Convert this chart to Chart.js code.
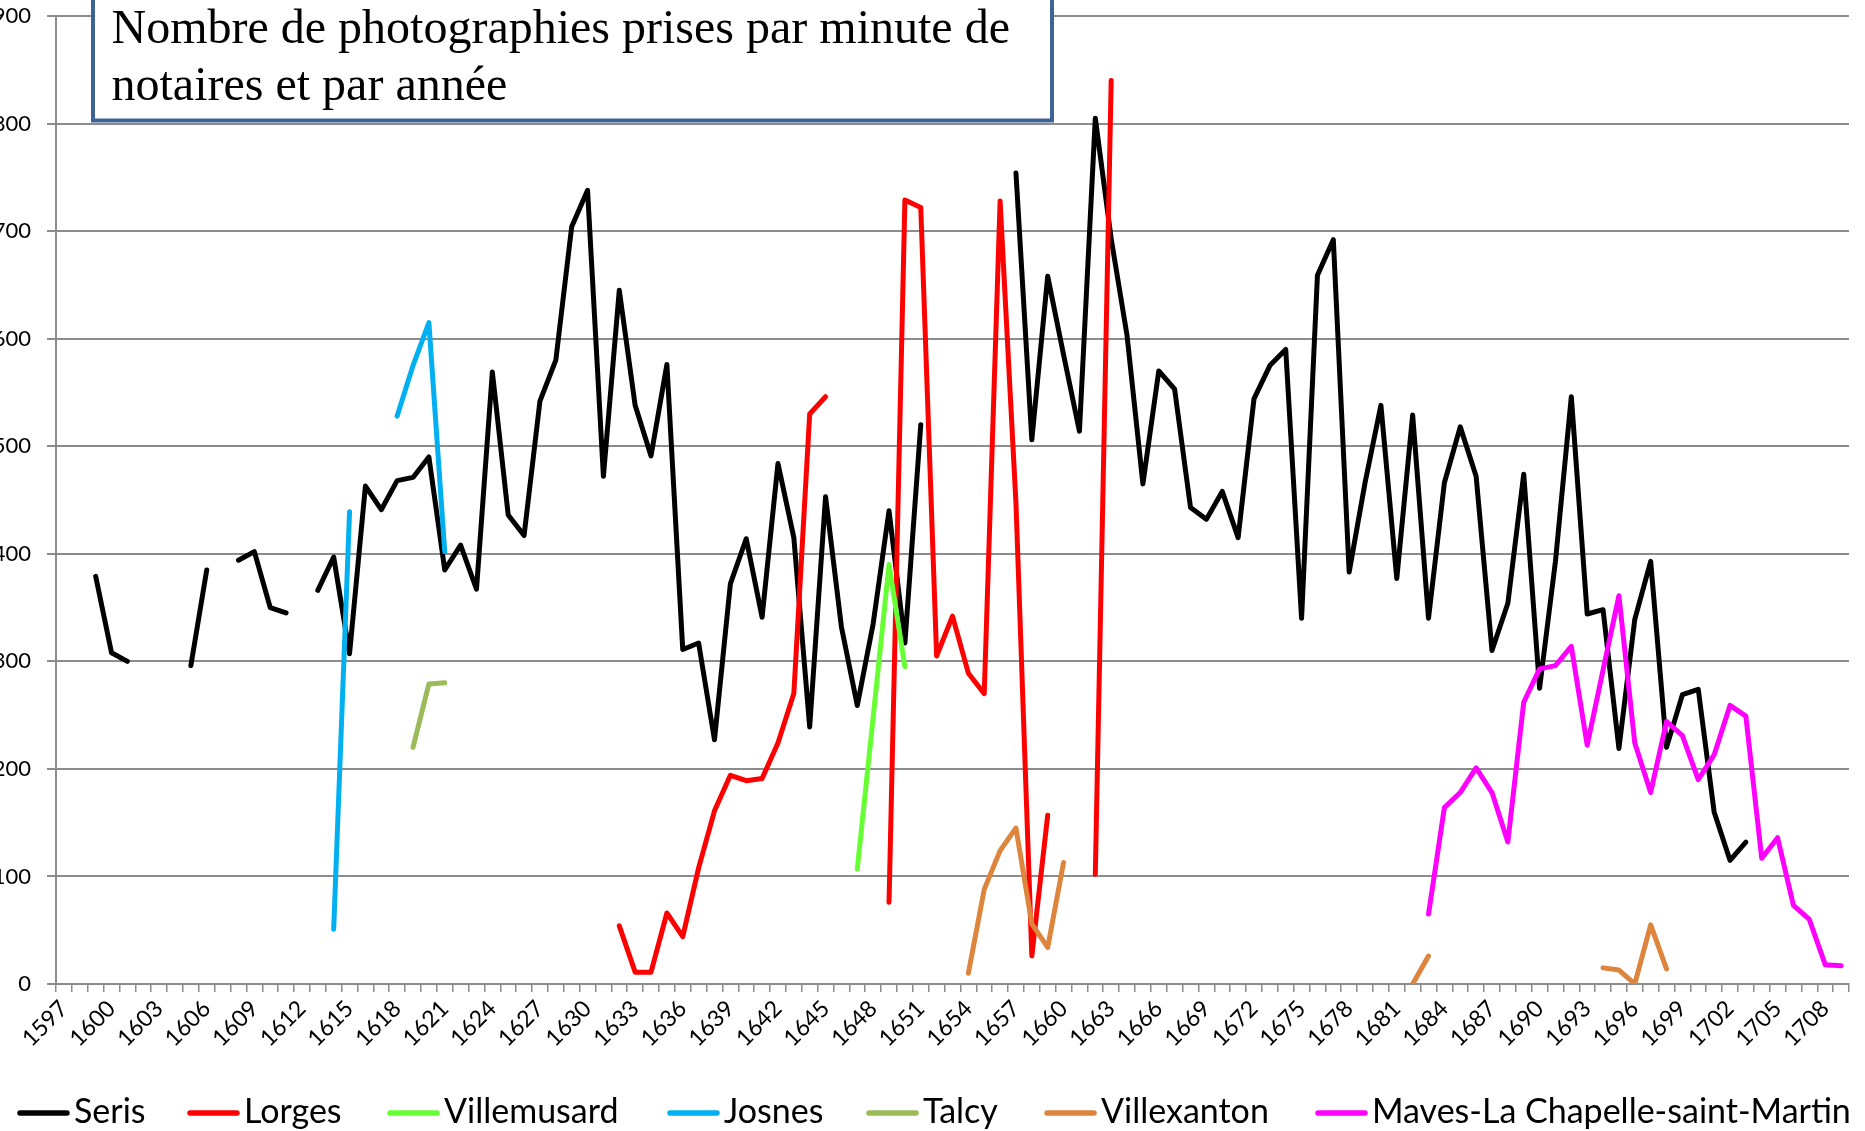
<!DOCTYPE html>
<html>
<head>
<meta charset="utf-8">
<script src="https://cdn.jsdelivr.net/npm/chart.js@4.4.1/dist/chart.umd.min.js"></script>
<style>
html,body{margin:0;padding:0;background:#fff;}
canvas{display:block;}
</style>
</head>
<body>
<canvas id="c" width="1865" height="1131"></canvas>
<script>
const _ = null;
const years = [
 '1597','1598','1599','1600','1601','1602','1603','1604','1605','1606',
 '1607','1608','1609','1610','1611','1612','1613','1614','1615','1616',
 '1617','1618','1619','1620','1621','1622','1623','1624','1625','1626',
 '1627','1628','1629','1630','1631','1632','1633','1634','1635','1636',
 '1637','1638','1639','1640','1641','1642','1643','1644','1645','1646',
 '1647','1648','1649','1650','1651','1652','1653','1654','1655','1656',
 '1657','1658','1659','1660','1661','1662','1663','1664','1665','1666',
 '1667','1668','1669','1670','1671','1672','1673','1674','1675','1676',
 '1677','1678','1679','1680','1681','1682','1683','1684','1685','1686',
 '1687','1688','1689','1690','1691','1692','1693','1694','1695','1696',
 '1697','1698','1699','1700','1701','1702','1703','1704','1705','1706',
 '1707','1708','1709'
];
const shownTicks = ['1597','1600','1603','1606','1609','1612','1615','1618','1621','1624','1627','1630','1633','1636','1639','1642','1645','1648','1651','1654','1657','1660','1663','1666','1669','1672','1675','1678','1681','1684','1687','1690','1693','1696','1699','1702','1705','1708'];
const yTicks = [0,100,200,300,400,500,600,700,800,900];

const seris = [
 _, _, 379, 308, 300, _, _, _, 296, 385,
 _, 394, 402, 350, 345, _, 366, 397, 307, 463,
 441, 468, 471, 490, 385, 408, 367, 569, 436, 417,
 542, 580, 704, 738, 472, 645, 538, 491, 576, 311,
 317, 227, 372, 414, 341, 484, 415, 239, 453, 332,
 259, 335, 440, 317, 520, _, _, _, _, _,
 754, 506, 658, 585, 514, 805, 693, 603, 465, 570,
 553, 443, 432, 458, 415, 544, 575, 590, 340, 659,
 692, 383, 466, 538, 377, 529, 340, 466, 518, 472,
 310, 354, 474, 275, 393, 546, 344, 348, 219, 339,
 393, 220, 269, 274, 160, 115, 132, _, _, _,
 _, _, _
];
const lorges = [
 _, _, _, _, _, _, _, _, _, _,
 _, _, _, _, _, _, _, _, _, _,
 _, _, _, _, _, _, _, _, _, _,
 _, _, _, _, _, 54, 11, 11, 66, 44,
 108, 161, 194, 189, 191, 224, 270, 530, 546, _,
 _, _, 76, 729, 722, 305, 342, 289, 270, 728,
 447, 26, 157, _, _, 102, 840, _, _, _,
 _, _, _, _, _, _, _, _, _, _,
 _, _, _, _, _, _, _, _, _, _,
 _, _, _, _, _, _, _, _, _, _,
 _, _, _, _, _, _, _, _, _, _,
 _, _, _
];
const villemusard = [
 _, _, _, _, _, _, _, _, _, _,
 _, _, _, _, _, _, _, _, _, _,
 _, _, _, _, _, _, _, _, _, _,
 _, _, _, _, _, _, _, _, _, _,
 _, _, _, _, _, _, _, _, _, _,
 107, 248, 390, 295, _, _, _, _, _, _,
 _, _, _, _, _, _, _, _, _, _,
 _, _, _, _, _, _, _, _, _, _,
 _, _, _, _, _, _, _, _, _, _,
 _, _, _, _, _, _, _, _, _, _,
 _, _, _, _, _, _, _, _, _, _,
 _, _, _
];
const josnes = [
 _, _, _, _, _, _, _, _, _, _,
 _, _, _, _, _, _, _, 51, 439, _,
 _, 528, 575, 615, 402, _, _, _, _, _,
 _, _, _, _, _, _, _, _, _, _,
 _, _, _, _, _, _, _, _, _, _,
 _, _, _, _, _, _, _, _, _, _,
 _, _, _, _, _, _, _, _, _, _,
 _, _, _, _, _, _, _, _, _, _,
 _, _, _, _, _, _, _, _, _, _,
 _, _, _, _, _, _, _, _, _, _,
 _, _, _, _, _, _, _, _, _, _,
 _, _, _
];
const talcy = [
 _, _, _, _, _, _, _, _, _, _,
 _, _, _, _, _, _, _, _, _, _,
 _, _, 220, 279, 280, _, _, _, _, _,
 _, _, _, _, _, _, _, _, _, _,
 _, _, _, _, _, _, _, _, _, _,
 _, _, _, _, _, _, _, _, _, _,
 _, _, _, _, _, _, _, _, _, _,
 _, _, _, _, _, _, _, _, _, _,
 _, _, _, _, _, _, _, _, _, _,
 _, _, _, _, _, _, _, _, _, _,
 _, _, _, _, _, _, _, _, _, _,
 _, _, _
];
const villexanton = [
 _, _, _, _, _, _, _, _, _, _,
 _, _, _, _, _, _, _, _, _, _,
 _, _, _, _, _, _, _, _, _, _,
 _, _, _, _, _, _, _, _, _, _,
 _, _, _, _, _, _, _, _, _, _,
 _, _, _, _, _, _, _, 10, 88, 124,
 145, 56, 34, 113, _, _, _, _, _, _,
 _, _, _, _, _, _, _, _, _, _,
 _, _, _, _, _, 0, 26, _, _, _,
 _, _, _, _, _, _, _, 15, 13, 0,
 55, 14, _, _, _, _, _, _, _, _,
 _, _, _
];
const maves = [
 _, _, _, _, _, _, _, _, _, _,
 _, _, _, _, _, _, _, _, _, _,
 _, _, _, _, _, _, _, _, _, _,
 _, _, _, _, _, _, _, _, _, _,
 _, _, _, _, _, _, _, _, _, _,
 _, _, _, _, _, _, _, _, _, _,
 _, _, _, _, _, _, _, _, _, _,
 _, _, _, _, _, _, _, _, _, _,
 _, _, _, _, _, _, 65, 164, 178, 201,
 178, 132, 262, 293, 296, 314, 222, 292, 361, 224,
 178, 244, 231, 190, 213, 259, 249, 117, 136, 73,
 60, 18, 17
];

const seriesNames = ['Seris','Lorges','Villemusard','Josnes','Talcy','Villexanton','Maves-La Chapelle-saint-Martin'];
const seriesValues = [seris, lorges, villemusard, josnes, talcy, villexanton, maves];
const seriesColors = ['#000000','#FF0000','#66FF33','#00B0F0','#9BBB59','#DD843D','#FF00FF'];
const titleLines = ['Nombre de photographies prises par minute de', 'notaires et par année'];
// legend item left edges (layout only)
const legendX = [17, 187, 387, 667, 866, 1044, 1315];

const titleBox = {
  id: 'titleBox',
  afterDraw(chart) {
    const ctx = chart.ctx;
    ctx.save();
    ctx.fillStyle = '#ffffff';
    ctx.strokeStyle = '#3F6596';
    ctx.lineWidth = 4;
    ctx.beginPath();
    ctx.rect(93, -10, 959, 130.5);
    ctx.fill();
    ctx.stroke();
    ctx.fillStyle = '#000';
    ctx.font = '48px "Liberation Serif"';
    ctx.textBaseline = 'alphabetic';
    ctx.textAlign = 'left';
    ctx.fillText(titleLines[0], 111.5, 42.5);
    ctx.fillText(titleLines[1], 111.5, 99.5);
    ctx.restore();
  }
};

const legendBottom = {
  id: 'legendBottom',
  afterDraw(chart) {
    const ctx = chart.ctx;
    ctx.save();
    ctx.font = '34px Lato';
    ctx.textBaseline = 'alphabetic';
    ctx.textAlign = 'left';
    chart.data.datasets.forEach((ds, i) => {
      const x = legendX[i];
      ctx.strokeStyle = ds.borderColor;
      ctx.lineWidth = 5.5;
      ctx.lineCap = 'round';
      ctx.beginPath();
      ctx.moveTo(x + 3, 1113);
      ctx.lineTo(x + 50, 1113);
      ctx.stroke();
      ctx.fillStyle = '#000';
      ctx.fillText(ds.label, x + 57, 1123);
    });
    ctx.restore();
  }
};

function build() {
  const datasets = seriesNames.map((name, i) => ({
    label: name,
    data: seriesValues[i],
    borderColor: seriesColors[i],
    backgroundColor: seriesColors[i],
    order: seriesNames.length - i,
    spanGaps: false
  }));
  new Chart(document.getElementById('c'), {
    type: 'line',
    data: { labels: years, datasets },
    plugins: [titleBox, legendBottom],
    options: {
      responsive: false,
      animation: false,
      devicePixelRatio: 1,
      layout: { padding: { top: 16, right: 16, left: 0, bottom: 0 } },
      plugins: { legend: { display: false }, tooltip: { enabled: false }, title: { display: false } },
      elements: {
        point: { radius: 0, hoverRadius: 0 },
        line: { borderWidth: 5, tension: 0, borderCapStyle: 'round', borderJoinStyle: 'round' }
      },
      scales: {
        x: {
          type: 'category',
          offset: true,
          grid: { offset: true, drawOnChartArea: false, drawTicks: true, tickLength: 8, color: '#8C8C8C', lineWidth: 1.5 },
          border: { color: '#8C8C8C', width: 2 },
          ticks: {
            autoSkip: false, maxRotation: 45, minRotation: 45,
            font: { family: 'Lato', size: 23 }, color: '#000', padding: 3,
            callback: function (v) { const l = years[v]; return shownTicks.includes(l) ? l : ''; }
          },
          afterFit: (s) => { s.height = 147; s.paddingLeft = 0; s.paddingRight = 0; }
        },
        y: {
          min: yTicks[0], max: yTicks[yTicks.length - 1],
          afterBuildTicks: (s) => { s.ticks = yTicks.map(v => ({ value: v })); },
          ticks: { font: { family: 'Lato', size: 22 }, color: '#000', padding: 16 },
          grid: { color: '#8C8C8C', lineWidth: 2, tickLength: 9 },
          border: { color: '#8C8C8C', width: 2 },
          afterFit: (s) => { s.width = 56; s.paddingTop = 0; s.paddingBottom = 0; }
        }
      }
    }
  });
}
Promise.all([
  document.fonts.load('34px Lato'),
  document.fonts.load('23px Lato'),
  document.fonts.load('48px "Liberation Serif"')
]).then(build, build);
</script>
</body>
</html>
